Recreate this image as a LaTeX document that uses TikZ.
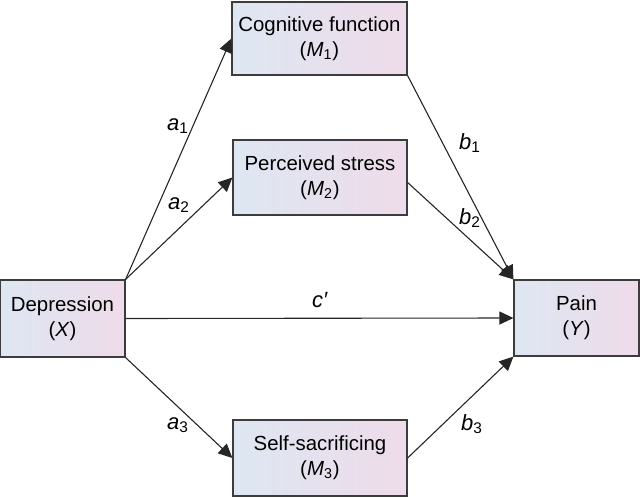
\documentclass[tikz,border=0pt]{standalone}
\usepackage{fontspec}
\setmainfont{Liberation Sans}
\usetikzlibrary{arrows.meta}
\definecolor{boxleft}{RGB}{221,231,242}
\definecolor{boxright}{RGB}{239,219,233}
\definecolor{edgegray}{RGB}{60,60,60}
\tikzset{
  varbox/.style={draw=edgegray, line width=0.6pt, left color=boxleft, right color=boxright,
    align=center, inner sep=0pt, font=\fontsize{10.2}{12.5}\selectfont},
  path/.style={draw=black!85, line width=0.55pt, -{Triangle[length=7pt,width=6.5pt]}},
  lbl/.style={font=\fontsize{11}{13}\selectfont, inner sep=0pt}
}
\newcommand{\vsub}[2]{\textit{#1}\textsubscript{#2}}
\begin{document}
\begin{tikzpicture}[x=0.5pt,y=-0.5pt]
\useasboundingbox (0,0) rectangle (640,497);
\node[varbox, minimum width=62.5pt, minimum height=38.5pt] (dep) at (62.5,318.5) {Depression\\(\textit{X})};
\node[varbox, minimum width=62.5pt, minimum height=38pt] (pain) at (576.5,318) {Pain\\(\textit{Y})};
\node[varbox, minimum width=87.5pt, minimum height=36.5pt] (cog) at (319.5,38.5) {Cognitive function\\(\vsub{M}{1})};
\node[varbox, minimum width=87pt, minimum height=37.5pt] (perc) at (320,177.5) {Perceived stress\\(\vsub{M}{2})};
\node[varbox, minimum width=87pt, minimum height=38pt] (self) at (320,458) {Self-sacrificing\\(\vsub{M}{3})};

\draw[path] (dep.north east) -- (cog.west);
\draw[path] (dep.north east) -- (perc.west);
\draw[path] (dep.east) -- (pain.west);
\draw[path] (dep.south east) -- (self.west);
\draw[path] (cog.south east) -- (pain.north west);
\draw[path] ([yshift=-2.5pt]perc.east) -- (pain.north west);
\draw[path] (self.east) -- (pain.south west);

\node[lbl] (la1) at (178,126) {\vsub{a}{1}};
\node[lbl] (la2) at (179,205) {\vsub{a}{2}};
\node[lbl] (la3) at (178,425) {\vsub{a}{3}};
\node[lbl] (lb1) at (470,143) {\vsub{b}{1}};
\node[lbl] (lb2) at (470,218) {\vsub{b}{2}};
\node[lbl] (lb3) at (472,424) {\vsub{b}{3}};
\node[lbl] (lc) at (320,300) {\textit{c′}};
\end{tikzpicture}
\end{document}
